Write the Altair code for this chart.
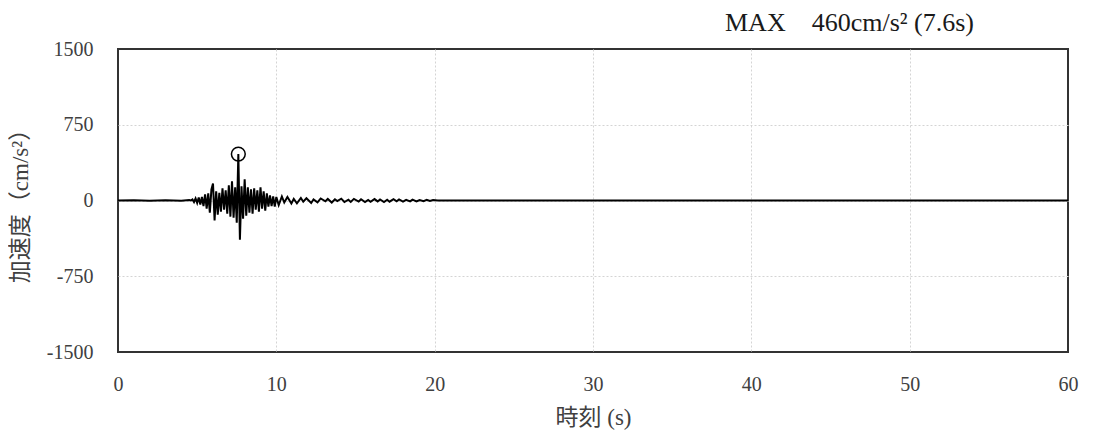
import altair as alt
import pandas as pd

# time (s) and acceleration (cm/s^2)
t_quiet = [0.0, 1.0, 2.0, 3.0, 4.0, 4.5]
a_quiet = [0, 2, -2, 3, -3, 4]

t_strong = [4.6, 4.7, 4.8, 4.9, 5.0, 5.1, 5.2, 5.3, 5.4, 5.5, 5.6, 5.7, 5.8, 5.9,
            6.0, 6.1, 6.2, 6.3, 6.4, 6.5, 6.6, 6.7, 6.8, 6.9, 7.0, 7.1, 7.2, 7.3,
            7.4, 7.5, 7.6, 7.7, 7.8, 7.9, 8.0, 8.1, 8.2, 8.3, 8.4, 8.5, 8.6, 8.7,
            8.8, 8.9, 9.0, 9.1, 9.2, 9.3, 9.4, 9.5, 9.6, 9.7, 9.8, 9.9, 10.0]
a_strong = [0, 10, -15, 20, -25, 30, -40, 35, -55, 60, -80, 70, -120, 110,
            168, -197, 90, -140, 75, -110, 120, -90, 100, -130, 150, -160, 190, -170,
            130, -220, 460, -388, 140, -180, 210, -150, 130, -120, 110, -130, 120, -90,
            100, -110, 130, -80, 90, -100, 70, -60, 50, -55, 40, -60, 35]

t_coda = [10.15, 10.35, 10.5, 10.7, 10.95, 11.1, 11.3, 11.55, 11.7, 11.9, 12.2, 12.35,
          12.6, 12.8, 13.1, 13.25, 13.5, 13.7, 13.85, 14.1, 14.3, 14.55, 14.7, 14.9,
          15.2, 15.35, 15.6, 15.8, 15.95, 16.2, 16.4, 16.55, 16.8, 17.0, 17.15, 17.4,
          17.6, 17.75, 18.0, 18.2, 18.45, 18.6, 18.85, 19.05, 19.3, 19.5, 19.7, 19.9,
          20.2, 30.0, 40.0, 50.0, 60.0]
a_coda = [-45, 40, -20, 35, -30, 15, -28, 25, -12, 22, -25, 10,
          -18, 20, -8, 15, -20, 12, -6, 18, -15, 8, -14, 16,
          -10, 12, -16, 6, -12, 14, -9, 11, -15, 7, -12, 13,
          -8, 10, -12, 6, -9, 8, -10, 5, -7, 6, -5, 4,
          0, 0, 0, 0, 0]

peak_t = [7.6]
peak_a = [460]

df = pd.DataFrame({
    "t": t_quiet + t_strong + t_coda,
    "a": a_quiet + a_strong + a_coda,
})
peak = pd.DataFrame({"t": peak_t, "a": peak_a})

FONT = "'Liberation Serif', 'Noto Sans CJK JP'"

x = alt.X("t:Q", scale=alt.Scale(domain=[0, 60], nice=False),
          axis=alt.Axis(values=[0, 10, 20, 30, 40, 50, 60], title="時刻 (s)",
                        labelExpr="'' + datum.value", labelFlush=False,
                        ticks=False, domain=False, labelPadding=22,
                        labelFont=FONT, labelFontSize=20, labelColor="#404040",
                        titleFont=FONT, titleFontSize=23, titleFontWeight="normal",
                        titleColor="#404040", titlePadding=12,
                        grid=True, gridColor="#d4d4d4", gridDash=[2, 2], gridWidth=1,
                        gridOpacity={"condition": {"test": "datum.value == 0 || datum.value == 60",
                                                   "value": 0}, "value": 1}))
y = alt.Y("a:Q", scale=alt.Scale(domain=[-1500, 1500], nice=False),
          axis=alt.Axis(values=[-1500, -750, 0, 750, 1500], title="加速度（cm/s²）",
                        labelExpr="'' + datum.value", labelFlush=False,
                        ticks=False, domain=False, labelPadding=25,
                        labelFont=FONT, labelFontSize=20, labelColor="#404040",
                        titleFont=FONT, titleFontSize=23, titleFontWeight="normal",
                        titleColor="#404040", titleX=-98, titleY=151,
                        titleAngle=-90, titleAlign="center", titleBaseline="middle",
                        grid=True, gridColor="#d4d4d4", gridDash=[2, 2], gridWidth=1,
                        gridOpacity={"condition": {"test": "datum.value == 1500 || datum.value == -1500",
                                                   "value": 0}, "value": 1}))

line = alt.Chart(df).mark_line(color="black", strokeWidth=2).encode(x=x, y=y)
circ = alt.Chart(peak).mark_point(shape="circle", filled=False, color="black",
                                  size=190, strokeWidth=1.5, opacity=1).encode(
    x=alt.X("t:Q"), y=alt.Y("a:Q"))

chart = alt.layer(line, circ).properties(
    width=950, height=303,
    autosize=alt.AutoSizeParams(type="none"),
    padding={"left": 110, "top": 41, "right": 19, "bottom": 79},
    title=alt.TitleParams("MAX\u00a0\u00a0\u00a0\u00a0460cm/s²\u00a0(7.6s)", anchor="end", dx=-104, offset=3,
                          font=FONT, fontSize=26, fontWeight="normal", color="#1a1a1a"),
).configure_view(stroke="#333333", strokeWidth=2)

chart.save("out.html", embed_options={"renderer": "svg", "actions": False})
